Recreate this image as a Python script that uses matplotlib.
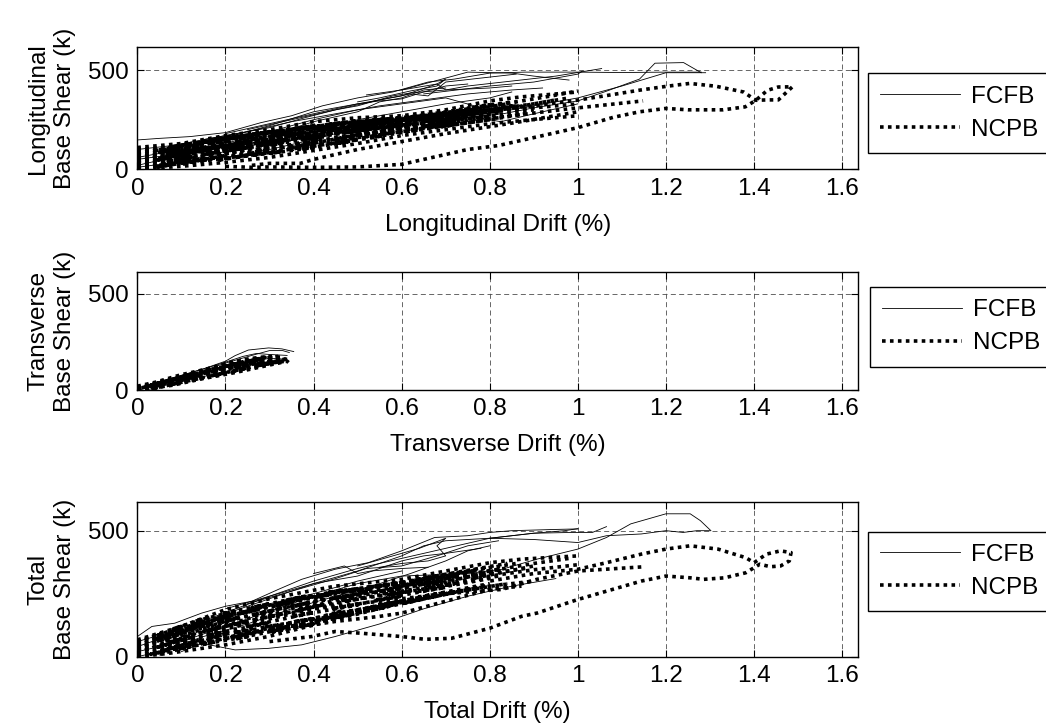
import matplotlib
matplotlib.use('Agg')
import matplotlib.pyplot as plt
from matplotlib.lines import Line2D

plt.rcParams['font.family'] = ['Liberation Sans', 'DejaVu Sans']
plt.rcParams['font.size'] = 17.5

# ---- data: (drift %, base shear k) traces ----
series_names = ['FCFB', 'NCPB']
x_ticks = [0, 0.2, 0.4, 0.6, 0.8, 1, 1.2, 1.4, 1.6]
y_ticks = [0, 500]

long_fcfb = [
    [(0, 148), (0.05, 156), (0.12, 165), (0.2, 185), (0.28, 235), (0.35, 270), (0.42, 320), (0.5, 360),
     (0.58, 390), (0.66, 440), (0.72, 455), (0.8, 485), (0.88, 490), (1.0, 490), (1.1, 488), (1.2, 490), (1.28, 490)],
    [(0, 60), (0.1, 100), (0.2, 160), (0.3, 220), (0.4, 290), (0.5, 330), (0.6, 370), (0.68, 430), (0.7, 400),
     (0.75, 420), (0.85, 445), (0.95, 470), (1.054, 508)],
    [(0, 20), (0.1, 70), (0.2, 130), (0.3, 190), (0.4, 250), (0.5, 300), (0.6, 330), (0.7, 360), (0.83, 280),
     (0.9, 310), (1.0, 345), (1.06, 390), (1.14, 455), (1.175, 535), (1.24, 538), (1.28, 487)],
    [(0.3, 120), (0.45, 200), (0.6, 260), (0.75, 290), (0.85, 300), (1.0, 360), (1.1, 420), (1.2, 487), (1.29, 487)],
    [(0.6, 400), (0.75, 490), (0.85, 485), (0.9, 470), (0.98, 450)],
    [(0.65, 380), (0.8, 420), (0.9, 440), (1.0, 480), (1.01, 495)],
    [(0, 100), (0.08, 120), (0.2, 170), (0.3, 210), (0.38, 260), (0.45, 300), (0.55, 350), (0.62, 380),
     (0.66, 370), (0.7, 440), (0.78, 460), (0.86, 480)],
    [(0, 50), (0.1, 80), (0.2, 120), (0.3, 170), (0.4, 240), (0.5, 290), (0.55, 340), (0.6, 360), (0.65, 400), (0.7, 410)],
    [(0, 10), (0.1, 40), (0.2, 90), (0.3, 140), (0.4, 190), (0.5, 250), (0.6, 290), (0.7, 330), (0.8, 360), (0.85, 390)],
    [(0.2, 60), (0.3, 100), (0.4, 150), (0.5, 210), (0.6, 250), (0.7, 290), (0.825, 240), (0.9, 280), (1.0, 330)],
    [(0.5, 340), (0.55, 360), (0.62, 395), (0.68, 420), (0.7, 455), (0.68, 430), (0.6, 400), (0.52, 375)],
    [(0.2, 180), (0.3, 230), (0.4, 280), (0.5, 330), (0.55, 345), (0.6, 355), (0.65, 390), (0.7, 420), (0.75, 430)],
    [(0.25, 200), (0.35, 250), (0.45, 300), (0.5, 320), (0.58, 370), (0.62, 385), (0.7, 400), (0.8, 410), (0.85, 420)],
    [(0.15, 150), (0.25, 190), (0.35, 240), (0.45, 280), (0.55, 320), (0.65, 350), (0.75, 380), (0.85, 400), (0.92, 410)],
]
long_ncpb = [
    [(0.2, 15), (0.26, 10), (0.3, 12), (0.4, 10), (0.5, 12), (0.6, 25), (0.67, 60), (0.75, 100), (0.82, 120),
     (0.9, 160), (1.0, 210), (1.08, 262), (1.14, 290), (1.2, 307), (1.25, 300), (1.33, 300), (1.38, 315),
     (1.404, 348), (1.43, 398), (1.455, 415), (1.487, 416), (1.471, 383), (1.455, 350), (1.43, 350),
     (1.404, 348), (1.376, 390), (1.313, 419), (1.254, 433), (1.203, 419), (1.14, 399), (1.06, 370),
     (1.0, 349), (0.9, 320), (0.8, 300)],
    [(0, 110), (0.1, 130), (0.2, 170), (0.3, 200), (0.4, 240), (0.5, 260), (0.6, 270), (0.7, 300), (0.8, 345),
     (0.87, 365), (0.95, 380), (1.0, 390)],
    [(0, 90), (0.1, 110), (0.2, 150), (0.3, 180), (0.4, 210), (0.5, 240), (0.6, 255), (0.7, 250), (0.83, 265),
     (0.98, 305), (1.148, 345)],
    [(0, 70), (0.1, 90), (0.2, 120), (0.3, 160), (0.4, 190), (0.5, 220), (0.6, 240), (0.7, 270), (0.8, 300),
     (0.9, 330), (0.98, 360)],
    [(0, 50), (0.1, 70), (0.2, 100), (0.3, 130), (0.4, 170), (0.5, 200), (0.6, 230), (0.7, 260), (0.8, 290),
     (0.9, 310), (1.0, 330)],
    [(0, 30), (0.1, 50), (0.2, 80), (0.3, 110), (0.4, 140), (0.5, 180), (0.6, 210), (0.7, 240), (0.8, 270), (0.9, 300)],
    [(0, 10), (0.1, 30), (0.2, 60), (0.3, 90), (0.4, 120), (0.5, 160), (0.6, 190), (0.7, 220), (0.8, 250), (0.88, 280)],
    [(0, 0), (0.1, 15), (0.2, 35), (0.3, 60), (0.4, 95), (0.5, 130), (0.6, 170), (0.7, 200), (0.8, 230), (0.87, 245), (1.0, 270)],
    [(0.26, 20), (0.3, 30), (0.37, 30), (0.4, 50), (0.5, 100), (0.6, 140), (0.7, 180), (0.8, 215), (0.87, 240), (1.0, 290)],
    [(0, 40), (0.15, 110), (0.08, 60), (0.25, 140), (0.18, 90), (0.35, 170), (0.28, 120), (0.45, 210), (0.38, 150),
     (0.55, 240), (0.48, 190), (0.65, 270), (0.58, 220), (0.75, 300), (0.7, 260), (0.85, 320), (0.8, 290), (0.95, 350)],
    [(0, 20), (0.12, 70), (0.06, 30), (0.22, 100), (0.16, 60), (0.32, 130), (0.26, 80), (0.42, 160), (0.36, 110),
     (0.52, 190), (0.46, 150), (0.62, 220), (0.56, 180), (0.72, 240), (0.66, 210), (0.82, 260)],
    [(0, 60), (0.05, 80), (0.1, 100), (0.15, 130), (0.2, 150), (0.25, 170), (0.35, 200), (0.45, 230), (0.55, 250),
     (0.62, 265), (0.7, 290), (0.78, 320), (0.86, 340), (0.94, 370), (1.0, 395)],
    [(0, 5), (0.1, 40), (0.05, 15), (0.15, 55), (0.1, 30), (0.2, 70), (0.15, 45), (0.3, 100), (0.25, 75), (0.4, 140),
     (0.35, 110), (0.5, 175), (0.45, 150), (0.6, 210), (0.55, 190), (0.7, 235), (0.65, 215), (0.8, 265)],
    [(0, 80), (0.1, 120), (0.05, 95), (0.2, 160), (0.15, 135), (0.3, 190), (0.25, 170), (0.4, 220), (0.35, 200),
     (0.5, 245), (0.45, 225), (0.6, 260), (0.55, 245), (0.7, 285), (0.65, 265), (0.8, 325), (0.75, 300), (0.85, 340)],
    [(0, 60), (0.12, 100), (0.07, 80), (0.2, 130), (0.14, 100), (0.28, 160), (0.22, 135), (0.38, 190), (0.3, 165),
     (0.48, 215), (0.42, 195), (0.58, 240), (0.5, 215), (0.68, 265), (0.62, 245), (0.78, 300), (0.72, 275), (0.86, 320)],
    [(0, 0), (0.08, 25), (0.04, 10), (0.14, 45), (0.1, 25), (0.22, 65), (0.18, 45), (0.3, 85), (0.26, 70), (0.4, 120),
     (0.35, 100), (0.5, 150), (0.44, 130), (0.58, 185), (0.52, 165), (0.68, 215), (0.62, 200), (0.78, 245)],
    [(0, 100), (0.06, 110), (0.12, 130), (0.08, 115), (0.18, 150), (0.14, 140), (0.24, 170), (0.2, 160), (0.32, 190),
     (0.28, 180), (0.42, 215), (0.38, 205), (0.52, 235), (0.48, 225), (0.62, 255), (0.58, 245), (0.74, 290), (0.7, 280), (0.84, 330)],
    [(0, 40), (0.1, 75), (0.05, 55), (0.16, 100), (0.11, 80), (0.24, 120), (0.2, 105), (0.34, 150), (0.28, 130),
     (0.44, 180), (0.4, 165), (0.54, 205), (0.48, 190), (0.64, 230), (0.6, 220), (0.74, 260), (0.7, 250), (0.82, 285)],
    [(0, 15), (0.05, 35), (0.1, 50), (0.07, 40), (0.13, 65), (0.1, 55), (0.18, 85), (0.15, 75), (0.25, 110), (0.21, 95),
     (0.33, 135), (0.29, 120), (0.42, 165), (0.37, 150), (0.52, 200), (0.47, 185), (0.62, 230), (0.57, 215), (0.72, 255),
     (0.67, 240), (0.82, 285)],
    [(0, 30), (0.07, 55), (0.04, 45), (0.11, 75), (0.08, 65), (0.17, 105), (0.13, 90), (0.23, 125), (0.19, 115),
     (0.31, 155), (0.27, 140), (0.39, 180), (0.35, 170), (0.49, 210), (0.44, 195), (0.59, 235), (0.54, 225), (0.69, 260),
     (0.64, 250), (0.79, 290), (0.74, 275), (0.88, 310)],
    [(0, 85), (0.06, 100), (0.04, 95), (0.1, 115), (0.08, 110), (0.16, 140), (0.13, 130), (0.22, 160), (0.19, 150),
     (0.3, 185), (0.26, 175), (0.38, 210), (0.34, 200), (0.47, 235), (0.43, 225), (0.57, 255), (0.52, 245), (0.66, 270),
     (0.62, 262), (0.76, 300), (0.72, 290), (0.86, 340)],
    [(0.05, 20), (0.12, 50), (0.09, 35), (0.18, 60), (0.15, 45), (0.25, 70), (0.22, 60), (0.33, 90), (0.3, 80),
     (0.4, 110), (0.37, 100), (0.48, 140), (0.45, 130), (0.56, 170), (0.53, 160), (0.64, 200), (0.61, 190), (0.72, 225),
     (0.69, 215), (0.8, 250)],
    [(0, 70), (0.09, 105), (0.05, 85), (0.15, 125), (0.11, 110), (0.21, 145), (0.17, 130), (0.27, 165), (0.23, 150),
     (0.35, 190), (0.31, 175), (0.44, 215), (0.4, 205), (0.53, 235), (0.49, 225), (0.63, 255), (0.59, 245), (0.73, 280),
     (0.69, 270), (0.83, 310)],
    [(0, 45), (0.09, 85), (0.06, 70), (0.14, 100), (0.1, 90), (0.2, 115), (0.16, 105), (0.26, 135), (0.22, 125),
     (0.32, 145), (0.28, 135), (0.4, 170), (0.36, 160), (0.5, 195), (0.45, 185), (0.6, 225), (0.55, 210), (0.7, 250),
     (0.65, 240), (0.8, 280)],
]

trans_fcfb = [
    [(0, 5), (0.05, 40), (0.1, 75), (0.15, 110), (0.2, 150), (0.222, 179), (0.252, 208), (0.298, 219), (0.328, 214), (0.355, 200)],
    [(0, 0), (0.05, 30), (0.1, 65), (0.15, 100), (0.2, 140), (0.26, 180), (0.3, 205), (0.33, 205), (0.345, 195)],
    [(0, 10), (0.06, 50), (0.12, 90), (0.18, 130), (0.24, 175), (0.27, 190), (0.3, 185), (0.34, 180)],
    [(0, 0), (0.08, 40), (0.16, 90), (0.24, 140), (0.3, 165), (0.34, 160)],
    [(0.02, 0), (0.1, 45), (0.18, 85), (0.26, 130), (0.32, 160)],
]
trans_ncpb = [
    [(0, 0), (0.05, 25), (0.1, 55), (0.15, 90), (0.2, 120), (0.25, 150), (0.3, 165), (0.34, 160)],
    [(0, 10), (0.05, 40), (0.1, 70), (0.15, 105), (0.2, 135), (0.25, 160), (0.3, 175), (0.33, 170)],
    [(0, 0), (0.06, 20), (0.12, 50), (0.18, 75), (0.24, 105), (0.3, 135), (0.34, 150), (0.345, 140)],
    [(0, 20), (0.04, 40), (0.1, 80), (0.16, 110), (0.22, 150), (0.28, 170), (0.32, 165)],
    [(0, 0), (0.08, 25), (0.15, 60), (0.22, 90), (0.28, 120), (0.33, 145)],
    [(0, 5), (0.08, 55), (0.04, 20), (0.14, 85), (0.1, 50), (0.2, 120), (0.16, 80), (0.26, 150), (0.22, 110),
     (0.31, 160), (0.28, 130), (0.34, 155)],
    [(0, 0), (0.05, 15), (0.03, 5), (0.1, 40), (0.07, 25), (0.15, 65), (0.12, 50), (0.2, 90), (0.17, 75),
     (0.25, 115), (0.22, 100), (0.3, 140), (0.27, 125), (0.33, 150)],
    [(0, 15), (0.06, 45), (0.03, 25), (0.12, 80), (0.09, 60), (0.18, 115), (0.15, 95), (0.24, 145), (0.21, 130),
     (0.29, 170), (0.26, 155), (0.32, 175)],
    [(0, 5), (0.04, 30), (0.07, 35), (0.11, 70), (0.13, 65), (0.17, 100), (0.19, 95), (0.23, 130), (0.25, 125),
     (0.28, 150), (0.31, 145), (0.34, 165)],
    [(0, 8), (0.05, 35), (0.03, 20), (0.09, 60), (0.07, 45), (0.13, 85), (0.11, 75), (0.18, 110), (0.15, 95),
     (0.23, 140), (0.2, 125), (0.28, 160), (0.25, 150), (0.32, 170)],
    [(0, 2), (0.04, 15), (0.06, 35), (0.09, 45), (0.12, 65), (0.15, 80), (0.18, 100), (0.21, 115), (0.24, 135),
     (0.27, 145), (0.3, 160), (0.335, 155)],
    [(0.01, 12), (0.05, 30), (0.08, 55), (0.11, 60), (0.14, 90), (0.17, 95), (0.2, 125), (0.23, 120), (0.26, 140),
     (0.29, 135), (0.32, 150), (0.34, 145)],
]

total_fcfb = [
    [(0, 80), (0.033, 120), (0.085, 133), (0.146, 173), (0.2, 200), (0.26, 220), (0.32, 267), (0.373, 307),
     (0.449, 347), (0.524, 373), (0.6, 420), (0.675, 473), (0.75, 480), (0.8, 493), (0.85, 500), (0.95, 505), (1.0, 507)],
    [(0, 40), (0.1, 100), (0.2, 170), (0.3, 230), (0.4, 290), (0.5, 340), (0.6, 400), (0.65, 440), (0.7, 460),
     (0.8, 470), (0.9, 465), (1.0, 453), (1.065, 480), (1.144, 487), (1.2, 500), (1.239, 493), (1.27, 500), (1.3, 500)],
    [(0, 20), (0.1, 60), (0.2, 120), (0.3, 180), (0.4, 240), (0.5, 290), (0.6, 320), (0.75, 330), (0.828, 347),
     (0.907, 387), (1.0, 427), (1.065, 473), (1.12, 527), (1.2, 567), (1.255, 567), (1.278, 540), (1.302, 500)],
    [(0, 60), (0.1, 110), (0.2, 175), (0.3, 240), (0.4, 300), (0.5, 350), (0.6, 390), (0.7, 430), (0.8, 470),
     (0.9, 490), (0.986, 493), (1.033, 493), (1.065, 516)],
    [(0.1, 20), (0.146, 53), (0.222, 27), (0.297, 33), (0.373, 47), (0.449, 80), (0.55, 130), (0.65, 190),
     (0.75, 240), (0.85, 280), (0.95, 310)],
    [(0, 0), (0.05, 20), (0.15, 80), (0.25, 130), (0.35, 190), (0.45, 240), (0.55, 290), (0.62, 330), (0.7, 380),
     (0.75, 420), (0.8, 440)],
    [(0.5, 360), (0.58, 400), (0.64, 430), (0.7, 470), (0.68, 440), (0.7, 400), (0.66, 380), (0.6, 370), (0.55, 355)],
    [(0.4, 330), (0.47, 360), (0.5, 330), (0.53, 340), (0.6, 350), (0.66, 355)],
    [(0.8, 470), (0.9, 490), (0.97, 500), (1.0, 508)],
    [(0.2, 190), (0.3, 240), (0.4, 290), (0.5, 320), (0.55, 350), (0.6, 380), (0.65, 400), (0.7, 410), (0.78, 430)],
    [(0.25, 210), (0.35, 260), (0.45, 310), (0.52, 350), (0.6, 360), (0.68, 400), (0.75, 440), (0.82, 460)],
    [(0.05, 60), (0.1, 90), (0.15, 140), (0.2, 150), (0.25, 180), (0.3, 210), (0.4, 250), (0.5, 300), (0.6, 340)],
]
total_ncpb = [
    [(0.3, 60), (0.396, 80), (0.449, 100), (0.509, 93), (0.6, 80), (0.653, 69), (0.713, 73), (0.8, 113),
     (0.872, 160), (0.907, 173), (1.0, 227), (1.065, 260), (1.144, 300), (1.2, 320), (1.255, 313), (1.286, 307),
     (1.333, 313), (1.381, 333), (1.4, 353), (1.413, 367), (1.437, 357), (1.46, 360), (1.48, 380), (1.484, 413),
     (1.46, 420), (1.428, 407), (1.4, 373), (1.381, 393), (1.318, 427), (1.255, 440), (1.2, 427), (1.144, 407),
     (1.065, 373), (1.0, 347), (0.9, 330), (0.8, 300)],
    [(0, 67), (0.1, 120), (0.2, 187), (0.3, 230), (0.449, 280), (0.6, 307), (0.7, 340), (0.8, 373), (0.872, 387),
     (0.95, 395), (1.0, 400)],
    [(0, 30), (0.1, 70), (0.2, 120), (0.3, 160), (0.4, 190), (0.5, 210), (0.6, 230), (0.7, 250), (0.828, 267),
     (0.907, 307), (1.0, 340), (1.08, 349), (1.152, 357)],
    [(0, 40), (0.1, 90), (0.2, 140), (0.3, 180), (0.4, 220), (0.5, 250), (0.6, 280), (0.7, 310), (0.8, 340),
     (0.9, 370), (0.98, 390)],
    [(0, 20), (0.1, 60), (0.2, 110), (0.3, 150), (0.4, 190), (0.5, 230), (0.6, 260), (0.7, 290), (0.8, 320),
     (0.9, 345), (1.0, 365)],
    [(0, 0), (0.07, 13), (0.2, 47), (0.297, 80), (0.449, 147), (0.6, 213), (0.7, 250), (0.8, 280), (0.9, 300)],
    [(0.3, 100), (0.45, 140), (0.55, 160), (0.6, 173), (0.7, 220), (0.8, 267), (0.872, 280)],
    [(0, 30), (0.12, 110), (0.06, 60), (0.22, 150), (0.16, 100), (0.32, 190), (0.26, 140), (0.42, 230), (0.36, 180),
     (0.52, 260), (0.46, 220), (0.62, 290), (0.56, 250), (0.72, 320), (0.66, 280), (0.82, 345), (0.76, 310), (0.9, 360)],
    [(0, 10), (0.1, 50), (0.05, 20), (0.18, 80), (0.12, 40), (0.26, 100), (0.2, 70), (0.36, 140), (0.3, 100),
     (0.46, 180), (0.4, 140), (0.56, 210), (0.5, 180), (0.66, 240), (0.6, 210), (0.76, 270), (0.7, 250), (0.84, 290)],
    [(0, 50), (0.08, 90), (0.04, 70), (0.14, 120), (0.1, 100), (0.2, 160), (0.16, 140), (0.28, 195), (0.24, 175),
     (0.38, 235), (0.32, 210), (0.48, 265), (0.42, 245), (0.58, 290), (0.52, 270), (0.68, 320), (0.62, 300), (0.8, 355)],
    [(0, 0), (0.06, 20), (0.03, 10), (0.12, 45), (0.08, 30), (0.2, 75), (0.15, 55), (0.28, 100), (0.23, 85),
     (0.38, 130), (0.33, 115), (0.48, 170), (0.42, 150), (0.58, 205), (0.52, 190), (0.68, 240), (0.62, 225), (0.78, 275)],
    [(0, 60), (0.05, 90), (0.1, 110), (0.07, 95), (0.15, 140), (0.12, 125), (0.22, 170), (0.18, 155), (0.3, 200),
     (0.26, 190), (0.4, 240), (0.35, 225), (0.5, 270), (0.45, 255), (0.6, 295), (0.55, 280), (0.72, 330), (0.66, 315), (0.84, 370)],
    [(0, 25), (0.07, 50), (0.04, 35), (0.13, 80), (0.09, 60), (0.2, 100), (0.16, 85), (0.3, 135), (0.25, 120),
     (0.4, 175), (0.35, 160), (0.5, 205), (0.44, 190), (0.6, 240), (0.54, 225), (0.7, 275), (0.64, 260), (0.8, 310)],
    [(0, 15), (0.05, 45), (0.1, 70), (0.07, 55), (0.13, 90), (0.1, 75), (0.18, 115), (0.15, 100), (0.25, 140),
     (0.21, 125), (0.33, 170), (0.29, 155), (0.42, 205), (0.37, 190), (0.52, 235), (0.47, 220), (0.62, 260),
     (0.57, 245), (0.72, 290), (0.67, 275), (0.82, 320)],
    [(0, 35), (0.07, 75), (0.04, 60), (0.11, 100), (0.08, 85), (0.17, 130), (0.13, 115), (0.23, 155), (0.19, 140),
     (0.31, 185), (0.27, 170), (0.39, 215), (0.35, 200), (0.49, 245), (0.44, 230), (0.59, 270), (0.54, 255),
     (0.69, 300), (0.64, 285), (0.79, 330), (0.74, 315), (0.88, 350)],
    [(0, 55), (0.06, 95), (0.04, 80), (0.1, 120), (0.08, 110), (0.16, 155), (0.13, 140), (0.22, 180), (0.19, 170),
     (0.3, 210), (0.26, 195), (0.38, 240), (0.34, 225), (0.47, 265), (0.43, 255), (0.57, 285), (0.52, 275),
     (0.66, 305), (0.62, 295), (0.76, 340), (0.72, 330), (0.86, 370)],
    [(0.05, 10), (0.12, 40), (0.09, 30), (0.18, 60), (0.15, 50), (0.25, 80), (0.22, 70), (0.33, 110), (0.3, 95),
     (0.4, 130), (0.37, 120), (0.48, 165), (0.45, 155), (0.56, 195), (0.53, 185), (0.64, 225), (0.61, 215),
     (0.72, 255), (0.69, 245), (0.8, 285)],
    [(0, 45), (0.09, 100), (0.05, 75), (0.15, 135), (0.11, 115), (0.21, 160), (0.17, 145), (0.27, 185), (0.23, 170),
     (0.35, 215), (0.31, 200), (0.44, 250), (0.4, 235), (0.53, 270), (0.49, 260), (0.63, 290), (0.59, 280),
     (0.73, 320), (0.69, 310), (0.83, 350)],
    [(0, 5), (0.09, 40), (0.06, 25), (0.14, 65), (0.1, 50), (0.2, 90), (0.16, 75), (0.26, 110), (0.22, 95),
     (0.32, 125), (0.28, 115), (0.4, 150), (0.36, 140), (0.5, 185), (0.45, 170), (0.6, 220), (0.55, 205),
     (0.7, 255), (0.65, 240), (0.8, 290)],
]

panels = [
    ('Longitudinal\nBase Shear (k)', 'Longitudinal Drift (%)', long_fcfb, long_ncpb,
     [0.1313, 0.7671, 0.689, 0.1678], (0.8296, 0.899)),
    ('Transverse\nBase Shear (k)', 'Transverse Drift (%)', trans_fcfb, trans_ncpb,
     [0.1313, 0.4635, 0.689, 0.1627], (0.8317, 0.6048)),
    ('Total\nBase Shear (k)', 'Total Drift (%)', total_fcfb, total_ncpb,
     [0.1313, 0.0967, 0.689, 0.2132], (0.8296, 0.2686)),
]

dotted = (0, (1, 1.2))
fig = plt.figure(figsize=(10.46, 7.27), dpi=100)

for ylab, xlab, fcfb, ncpb, rect, leg_pos in panels:
    ax = fig.add_axes(rect)
    for curve in fcfb:
        d, v = zip(*curve)
        ax.plot(d, v, color='k', lw=0.6)
    for curve in ncpb:
        d, v = zip(*curve)
        ax.plot(d, v, color='k', lw=2.6, linestyle=dotted, dash_capstyle='butt')

    ax.set_xlim(0, 1.636)
    ax.set_ylim(0, 615)
    ax.set_xticks(x_ticks)
    ax.set_xticklabels(['0', '0.2', '0.4', '0.6', '0.8', '1', '1.2', '1.4', '1.6'])
    ax.set_yticks(y_ticks)
    ax.grid(True, linestyle=(0, (6, 4)), color='0.3', lw=0.6)
    ax.set_axisbelow(True)
    ax.tick_params(direction='in', top=True, right=True, length=5, width=0.8, pad=6, labelsize=17.5)
    for sp in ax.spines.values():
        sp.set_linewidth(1.0)
    ax.set_xlabel(xlab, fontsize=17.5, labelpad=10)
    ax.set_ylabel(ylab, fontsize=17.5, labelpad=8.5, linespacing=1.3)

    handles = [Line2D([], [], color='k', lw=0.6),
               Line2D([], [], color='k', lw=2.6, linestyle=dotted, dash_capstyle='butt')]
    leg = fig.legend(handles, series_names, loc='upper left', bbox_to_anchor=leg_pos,
                     bbox_transform=fig.transFigure, fancybox=False, framealpha=1, edgecolor='k',
                     handlelength=3.3, handletextpad=0.45, borderpad=0.5, labelspacing=0.45,
                     borderaxespad=0, fontsize=17.5)
    leg.get_frame().set_linewidth(1.0)

fig.savefig('out.png', dpi=100)
